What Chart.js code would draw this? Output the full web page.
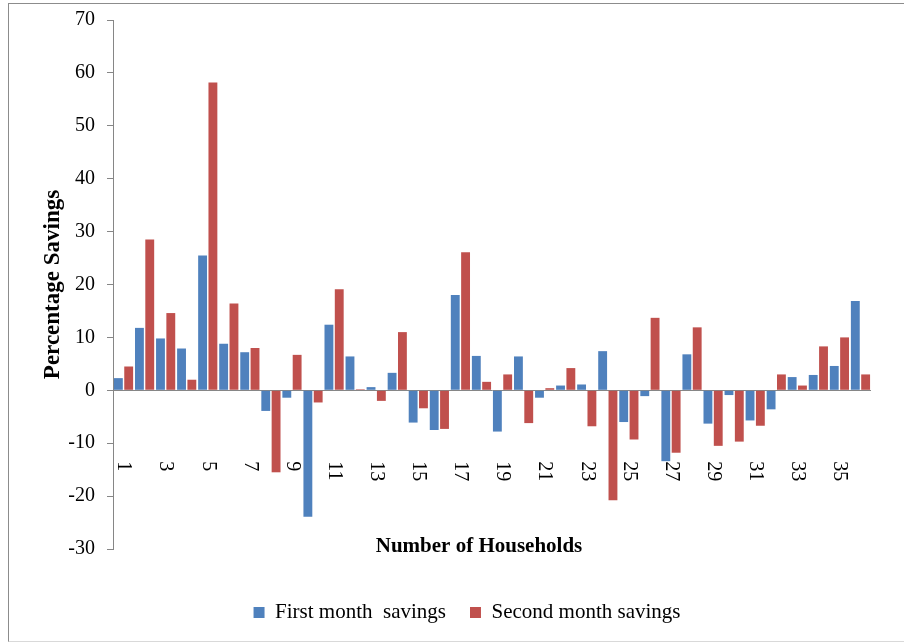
<!DOCTYPE html>
<html>
<head>
<meta charset="utf-8">
<script src="https://cdn.jsdelivr.net/npm/chart.js@4/dist/chart.umd.min.js"></script>
<style>
    body { margin: 0; background: #fff; }
    .wrap { position: relative; width: 904px; height: 644px; overflow: hidden; }
    .frame {
        position: absolute; left: 8px; top: 3px; width: 920px; height: 637px;
        border-left: 1px solid #8c8c8c; border-top: 1px solid #8c8c8c; border-bottom: 1px solid #d9d9d9;
    }
    #chart { position: absolute; left: 0; top: 0; }
</style>
</head>
<body>
<div class="wrap">
    <div class="frame"></div>
    <canvas id="chart" width="904" height="644"></canvas>
</div>
<script>
const households = ['1','2','3','4','5','6','7','8','9','10','11','12','13','14','15','16','17','18',
    '19','20','21','22','23','24','25','26','27','28','29','30','31','32','33','34','35','36'];
const firstMonth = [2.3, 11.8, 9.8, 7.9, 25.5, 8.8, 7.2, -3.9, -1.4, -23.9, 12.4, 6.4, 0.6, 3.3, -6.1, -7.5, 18.0, 6.5,
    -7.8, 6.4, -1.4, 0.9, 1.1, 7.4, -6.0, -1.1, -13.4, 6.8, -6.3, -0.9, -5.7, -3.6, 2.5, 2.9, 4.6, 16.9];
const secondMonth = [4.5, 28.5, 14.6, 2.0, 58.2, 16.4, 8.0, -15.5, 6.7, -2.3, 19.1, 0.2, -2.0, 11.0, -3.4, -7.3, 26.1, 1.6,
    3.0, -6.2, 0.4, 4.2, -6.8, -20.8, -9.3, 13.7, -11.8, 11.9, -10.5, -9.7, -6.7, 3.0, 0.9, 8.3, 10.0, 3.0];
const yTicks = { min: -30, max: 70, step: 10 };

const serif = '"Liberation Serif", "Times New Roman", serif';
const axisGray = '#868686';

// household numbers: every other one, turned clockwise, below the zero line
const householdLabels = {
    id: 'householdLabels',
    afterDraw(chart) {
        const { ctx, chartArea, scales: { x, y } } = chart;
        const top = y.getPixelForValue(0) + 71;
        ctx.save();
        ctx.fillStyle = '#000';
        ctx.font = '20px ' + serif;
        ctx.textAlign = 'left';
        ctx.textBaseline = 'middle';
        households.forEach((label, i) => {
            if (i % 2) return;
            ctx.save();
            ctx.translate(x.getPixelForValue(i), top);
            ctx.rotate(Math.PI / 2);
            ctx.fillText(label, 0, 0);
            ctx.restore();
        });
        // axis title sits over the bottom of the plot
        ctx.font = 'bold 21px ' + serif;
        ctx.textAlign = 'center';
        ctx.fillText('Number of Households', (chartArea.left + chartArea.right) / 2 - 13, chartArea.bottom - 2);
        ctx.restore();
    }
};

new Chart(document.querySelector('#chart'), {
    type: 'bar',
    data: {
        labels: households,
        datasets: [
            {
                label: 'First month  savings',
                data: firstMonth,
                backgroundColor: '#4F81BD',
                borderWidth: 0
            },
            {
                label: 'Second month savings',
                data: secondMonth,
                backgroundColor: '#C0504D',
                borderWidth: 0
            }
        ]
    },
    options: {
        responsive: false,
        animation: false,
        devicePixelRatio: 1,
        categoryPercentage: 0.98,
        barPercentage: 0.86,
        layout: { padding: { left: 63, right: 33, top: 19, bottom: 11 } },
        plugins: {
            tooltip: { enabled: false },
            legend: {
                position: 'bottom',
                labels: {
                    boxWidth: 11,
                    boxHeight: 11,
                    padding: 24,
                    color: '#000',
                    font: { family: serif, size: 21 }
                }
            }
        },
        scales: {
            x: {
                ticks: { display: false },
                grid: { display: false },
                border: { display: false },
                afterFit: (scale) => { scale.height = 29; }
            },
            y: {
                min: yTicks.min,
                max: yTicks.max,
                ticks: {
                    stepSize: yTicks.step,
                    padding: 12,
                    color: '#000',
                    font: { family: serif, size: 20, lineHeight: 0.8 }
                },
                grid: {
                    color: (c) => (c.tick && c.tick.value === 0 ? axisGray : 'rgba(0,0,0,0)'),
                    tickColor: axisGray,
                    tickLength: 6
                },
                border: { display: true, color: axisGray },
                title: {
                    display: true,
                    text: 'Percentage Savings',
                    color: '#000',
                    font: { family: serif, size: 23, weight: 'bold', lineHeight: 1.2 },
                    padding: { top: -24, bottom: 0 }
                },
                afterFit: (scale) => { scale.width = 50; }
            }
        }
    },
    plugins: [householdLabels]
});
</script>
</body>
</html>
